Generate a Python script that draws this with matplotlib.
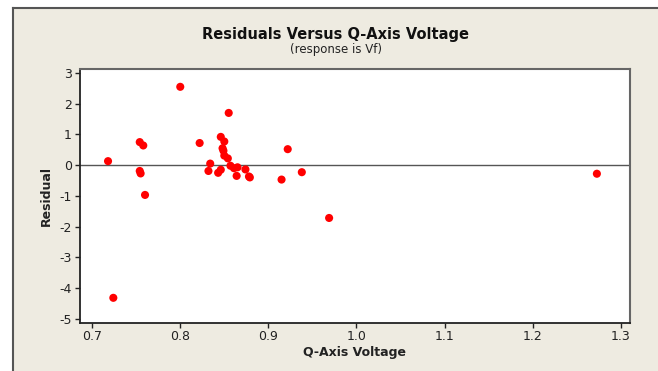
import matplotlib.pyplot as plt
from matplotlib.patches import Rectangle
from matplotlib.lines import Line2D

# data
voltage = [0.718, 0.754, 0.758, 0.754, 0.755, 0.760, 0.724, 0.800, 0.822,
           0.855, 0.846, 0.850, 0.848, 0.849, 0.850, 0.854, 0.834, 0.832,
           0.843, 0.846, 0.857, 0.861, 0.865, 0.864, 0.874, 0.878, 0.879,
           0.915, 0.922, 0.938, 0.969, 1.273]
residual = [0.13, 0.75, 0.64, -0.19, -0.27, -0.97, -4.32, 2.55, 0.72,
            1.70, 0.92, 0.77, 0.55, 0.47, 0.31, 0.22, 0.05, -0.19,
            -0.25, -0.15, -0.02, -0.10, -0.07, -0.35, -0.14, -0.37, -0.40,
            -0.47, 0.52, -0.23, -1.72, -0.28]
xticks = [0.7, 0.8, 0.9, 1.0, 1.1, 1.2, 1.3]
yticks = [-5, -4, -3, -2, -1, 0, 1, 2, 3]

plt.rcParams['axes.unicode_minus'] = False

W, H = 658, 371
bg = '#eeebe1'

fig = plt.figure(figsize=(W / 100, H / 100), dpi=100, facecolor='white')

# beige panel with border on top and left (picture is cropped on the other sides)
fig.patches.append(Rectangle((12 / W, 0), 1, 1 - 8 / H, transform=fig.transFigure,
                             facecolor=bg, edgecolor='none', zorder=-10))
fig.lines.append(Line2D([12.5 / W, 12.5 / W], [0, 1 - 8 / H], transform=fig.transFigure,
                        color='#555555', lw=1.5, zorder=-9))
fig.lines.append(Line2D([12.5 / W, 1], [1 - 8 / H, 1 - 8 / H], transform=fig.transFigure,
                        color='#555555', lw=1.5, zorder=-9))

ax = fig.add_axes([79.5 / W, 1 - 322.7 / H, (630 - 79.5) / W, (322.7 - 69) / H])
ax.set_facecolor('white')

ax.axhline(0, color='#555555', lw=1.0, zorder=1)
ax.scatter(voltage, residual, s=34, color='#ff0000', edgecolors='none', zorder=3)

ax.set_xlim(0.6856, 1.3106)
ax.set_ylim(-5.13, 3.13)
ax.set_xticks(xticks)
ax.set_xticklabels([f'{v:.1f}' for v in xticks])
ax.set_yticks(yticks)
ax.tick_params(direction='out', length=3.5, width=1, color='#222222',
               labelsize=9, labelcolor='#222222', pad=2)

for side in ['left', 'bottom']:
    ax.spines[side].set_color('#222222')
    ax.spines[side].set_linewidth(1.3)
for side in ['top', 'right']:
    ax.spines[side].set_color('#666666')
    ax.spines[side].set_linewidth(1.5)

ax.set_xlabel('Q-Axis Voltage', fontsize=9, fontweight='bold', color='#222222', labelpad=2)
ax.set_ylabel('Residual', fontsize=9, fontweight='bold', color='#222222', labelpad=5)

fig.text(336 / W, 1 - 35 / H, 'Residuals Versus Q-Axis Voltage', ha='center', va='center',
         fontsize=10.5, fontweight='bold', color='#111111')
fig.text(336 / W, 1 - 50 / H, '(response is Vf)', ha='center', va='center',
         fontsize=8.5, color='#222222')

fig.savefig('out.png', dpi=100, facecolor=fig.get_facecolor())
